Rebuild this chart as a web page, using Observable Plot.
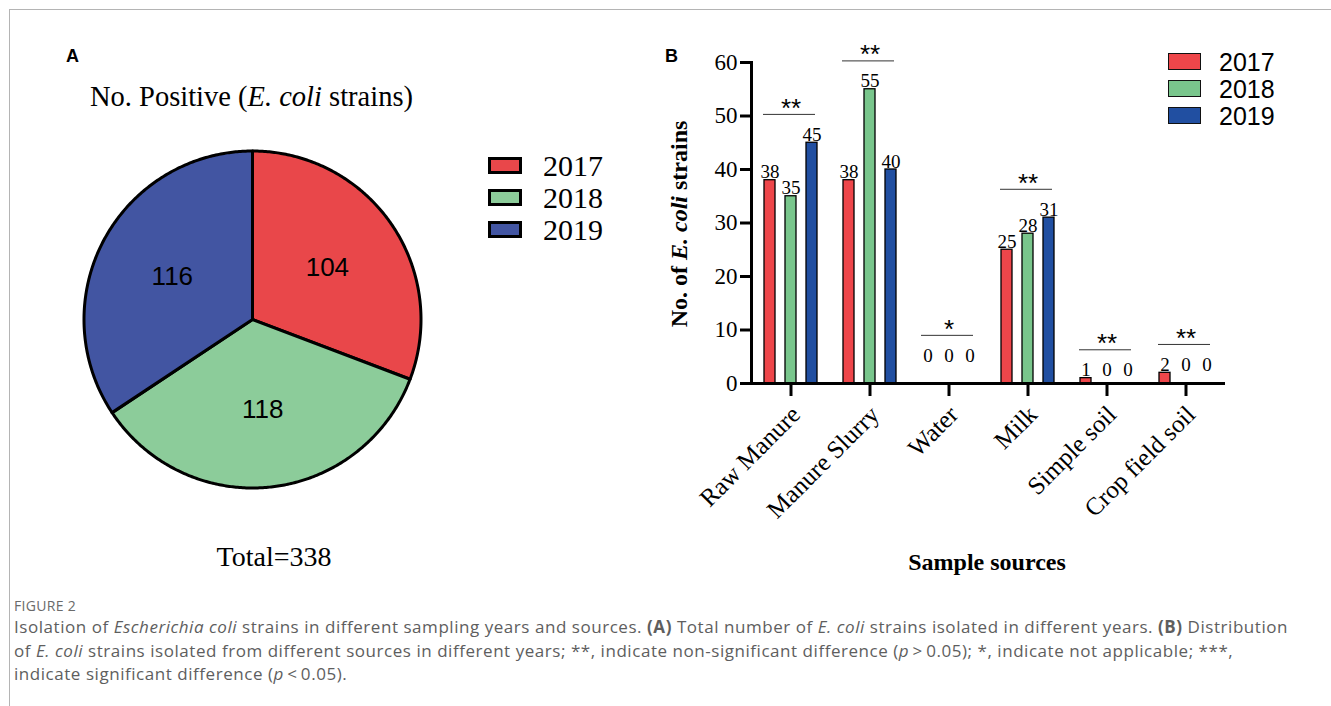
<!DOCTYPE html>
<html>
<head>
<meta charset="utf-8">
<script src="https://cdn.jsdelivr.net/npm/d3@7"></script>
<script src="https://cdn.jsdelivr.net/npm/@observablehq/plot@0.6"></script>
<style>
  body { margin: 0; background: #fff; }
  #page { position: relative; width: 1331px; height: 706px; overflow: hidden; background: #fff; }
  .abs { position: absolute; white-space: nowrap; }
  .serif { font-family: "Liberation Serif", "Times New Roman", serif; color: #000; }
  .sans { font-family: "Liberation Sans", Arial, sans-serif; color: #000; }
  .cap { font-family: "Open Sans", Lato, sans-serif; color: #5e5e5e; font-size: 17px; }
</style>
</head>
<body>
<div id="page"></div>
<script>
// ---- data ----
const years = ["2017", "2018", "2019"];
const totalByYear = [104, 118, 116];
const sources = ["Raw Manure", "Manure Slurry", "Water", "Milk", "Simple soil", "Crop field soil"];
const strains2017 = [38, 38, 0, 25, 1, 2];
const strains2018 = [35, 55, 0, 28, 0, 0];
const strains2019 = [45, 40, 0, 31, 0, 0];
const significance = ["**", "**", "*", "**", "**", "**"];
const yTicks = [0, 10, 20, 30, 40, 50, 60];

const pieColors = ["#e9474a", "#8ccc9a", "#4255a2"];
const barColors = ["#ee464a", "#79c68c", "#214fa1"];
const serif = "Liberation Serif, Times New Roman, serif";
const sans = "Liberation Sans, Arial, sans-serif";

const page = document.getElementById("page");
function place(node, left, top) {
  const wrap = document.createElement("div");
  wrap.className = "abs";
  wrap.style.left = left + "px";
  wrap.style.top = top + "px";
  wrap.appendChild(node);
  page.appendChild(wrap);
  return wrap;
}
function html(markup, cls, css) {
  const d = document.createElement("div");
  d.className = "abs " + cls;
  d.style.cssText = css;
  d.innerHTML = markup;
  page.appendChild(d);
  return d;
}

// ---- frame lines of the figure box ----
html("", "", "left:9px;top:9px;width:1322px;height:0;border-top:1px solid #b4b4b4;");
html("", "", "left:9px;top:9px;width:0;height:697px;border-left:1px solid #b4b4b4;");

// ---- panel A: pie of totals per year ----
html("A", "sans", "left:66px;top:46px;font-size:18px;font-weight:bold;");
html("No. Positive (<i>E. coli</i> strains)", "serif", "left:90px;top:81px;font-size:28.5px;");
html("Total=338", "serif", "left:274px;top:557px;font-size:28px;transform:translate(-50%,-50%);");

const arcs = d3.pie().sort(null)(totalByYear);
const slicePoints = arcs.flatMap((a, i) => {
  const n = Math.ceil((a.endAngle - a.startAngle) / 0.01);
  const pts = [{year: years[i], x: 0, y: 0}];
  for (let k = 0; k <= n; k++) {
    const t = a.startAngle + (a.endAngle - a.startAngle) * k / n;
    pts.push({year: years[i], x: Math.sin(t), y: Math.cos(t)});
  }
  return pts;
});
const sliceLabels = arcs.map((a, i) => {
  const t = (a.startAngle + a.endAngle) / 2;
  return {text: String(totalByYear[i]), x: 0.54 * Math.sin(t), y: 0.54 * Math.cos(t)};
});

const pie = Plot.plot({
  width: 360, height: 360, margin: 0,
  style: {background: "transparent", overflow: "visible"},
  x: {domain: [-1, 1], range: [11.5, 348.5], axis: null},
  y: {domain: [-1, 1], range: [348.5, 11.5], axis: null},
  color: {domain: years, range: pieColors},
  marks: [
    Plot.line(slicePoints, {x: "x", y: "y", z: "year", fill: "year", stroke: "black",
      strokeWidth: 3, strokeLinejoin: "round", curve: "linear-closed"}),
    Plot.text(sliceLabels, {x: "x", y: "y", text: "text", fontSize: 26, fontFamily: sans, fill: "black"})
  ]
});
place(pie, 72, 139);

// pie legend
years.forEach((yr, i) => {
  html("", "", `left:488px;top:${157 + i * 32}px;width:28px;height:11px;border:3px solid #000;background:${pieColors[i]};`);
  html(yr, "serif", `left:543px;top:${165.5 + i * 32}px;font-size:30px;transform:translateY(-50%);line-height:1;`);
});

// ---- panel B: strains by source and year ----
html("B", "sans", "left:665px;top:46px;font-size:18px;font-weight:bold;");

const series = [strains2017, strains2018, strains2019];
const emptyLift = 3.7; // label height used when a whole group is zero
const groups = sources.map((s, i) => {
  const top = Math.max(...series.map(v => v[i]));
  const level = top > 0 ? top : emptyLift;
  return {source: s, sig: significance[i], level, bracket: level + 5.3};
});
const rows = sources.flatMap((s, i) => years.map((yr, j) => {
  const count = series[j][i];
  return {source: s, year: yr, count, labelY: count > 0 ? count : groups[i].level};
}));

const bars = Plot.plot({
  width: 640, height: 500,
  marginLeft: 108, marginRight: 53, marginTop: 32, marginBottom: 147,
  style: {background: "transparent", overflow: "visible"},
  fx: {domain: sources, padding: 0, label: null},
  x: {domain: years, paddingInner: 0.46, paddingOuter: 0.6, axis: null},
  y: {domain: [0, 60], label: null},
  color: {domain: years, range: barColors},
  marks: [
    Plot.barY(rows.filter(d => d.count > 0), {fx: "source", x: "year", y: "count", fill: "year",
      stroke: "black", strokeWidth: 1.3}),
    Plot.frame({anchor: "left", facetAnchor: "left", strokeWidth: 3}),
    Plot.ruleY([0], {strokeWidth: 3}),
    Plot.axisY({ticks: yTicks, tickSize: 11, strokeWidth: 3, tickPadding: 3, fontSize: 23,
      fontFamily: serif, fill: "black", label: null}),
    Plot.axisFx({anchor: "bottom", tickSize: 13, strokeWidth: 3, fill: "none", label: null}),
    Plot.axisFx({anchor: "bottom", tickSize: 0, tickPadding: 27, tickRotate: -45, dx: 5,
      fontSize: 25, fontFamily: serif, fill: "black", label: null}),
    Plot.text(rows, {fx: "source", x: "year", y: "labelY", text: d => String(d.count),
      lineAnchor: "bottom", dy: -2, fontSize: 19, fontFamily: serif, fill: "black"}),
    Plot.ruleY(groups, {fx: "source", y: "bracket", insetLeft: 12, insetRight: 15,
      stroke: "#333", strokeWidth: 1}),
    Plot.text(groups, {fx: "source", y: "bracket", text: "sig", lineAnchor: "bottom", dy: 2.5,
      fontSize: 26, fontFamily: sans, fill: "black"})
  ]
});
place(bars, 640, 30);

html("No. of <i>E. coli</i> strains", "serif",
  "left:679px;top:224px;font-size:24px;font-weight:bold;transform:translate(-50%,-50%) rotate(-90deg);");
html("Sample sources", "serif",
  "left:987px;top:562px;font-size:24px;font-weight:bold;transform:translate(-50%,-50%);");

// bar legend
years.forEach((yr, i) => {
  html("", "", `left:1168px;top:${53 + i * 27}px;width:31px;height:15px;border:1.3px solid #111;background:${barColors[i]};`);
  html(yr, "sans", `left:1219px;top:${61.5 + i * 27}px;font-size:25px;transform:translateY(-50%);line-height:1;`);
});

// ---- caption ----
html("FIGURE 2", "cap", "left:14px;top:596px;font-size:14px;color:#6a6a6a;letter-spacing:0.3px;");
const capLines = [
  html("Isolation of <i>Escherichia coli</i> strains in different sampling years and sources. <b>(A)</b> Total number of <i>E. coli</i> strains isolated in different years. <b>(B)</b> Distribution",
    "cap", "left:14px;top:615px;"),
  html("of <i>E. coli</i> strains isolated from different sources in different years; **, indicate non-significant difference (<i>p</i>&thinsp;&gt;&thinsp;0.05); *, indicate not applicable; ***,",
    "cap", "left:14px;top:639px;"),
  html("indicate significant difference (<i>p</i>&thinsp;&lt;&thinsp;0.05).",
    "cap", "left:14px;top:662px;")
];
// the first caption line runs across the full text block width
const first = capLines[0];
const spacing = (1274 - first.getBoundingClientRect().width) / first.textContent.length;
capLines.forEach(el => { el.style.letterSpacing = spacing + "px"; });
</script>
</body>
</html>
